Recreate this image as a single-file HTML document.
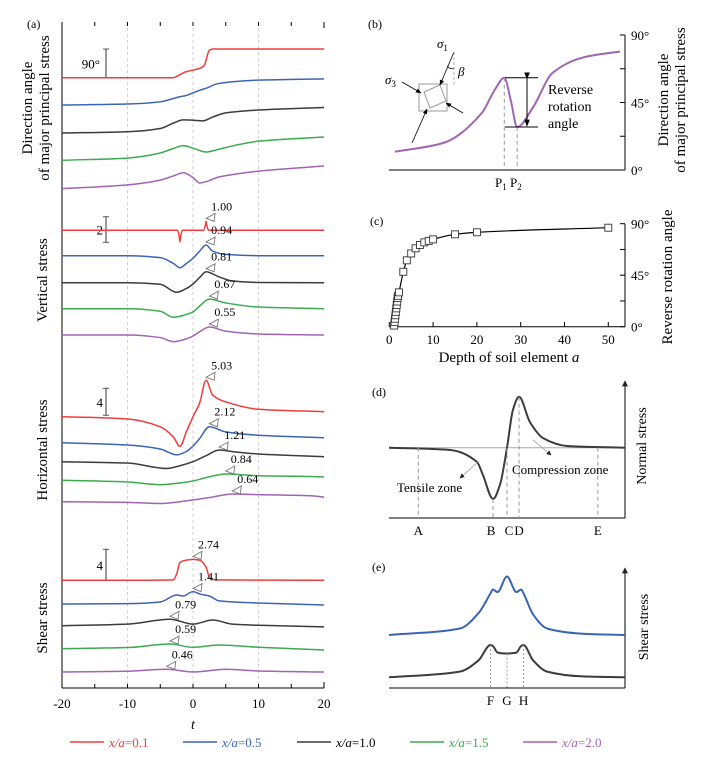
<!DOCTYPE html>
<html><head><meta charset="utf-8"><style>
html,body{margin:0;padding:0;background:#fff;}
svg{display:block;font-family:"Liberation Serif",serif;}
</style></head><body>
<svg id="fig" width="706" height="767" viewBox="0 0 706 767" xmlns="http://www.w3.org/2000/svg">
<defs>
<marker id="arr" viewBox="0 0 10 10" refX="9" refY="5" markerWidth="7" markerHeight="7" orient="auto"><path d="M0,1 L10,5 L0,9 z" fill="#000"/></marker>
<marker id="arr2" viewBox="0 0 10 10" refX="9" refY="5" markerWidth="6" markerHeight="6" orient="auto"><path d="M0,0 L10,5 L0,10 z" fill="#222"/></marker>
</defs>
<g id="pa"></g>
<g id="pb"></g>
<g id="pc"></g>
<g id="pd"></g>
<g id="pe"></g>
<g id="legend"></g>
</svg>
<script>
// ---------- data ----------
const seriesNames = ["x/a=0.1","x/a=0.5","x/a=1.0","x/a=1.5","x/a=2.0"];
const seriesColors = ["#f03c3c","#3c64b4","#3c3c3c","#3caa50","#a064b4"];
const tTicks = [-20,-10,0,10,20];

const dirT = [[-20,-3,-2.5,-1.5,-1,0,1,1.7,2.5,3,20],[-20,-10,-5,-2,-1.2,0,1,2.1,3.6,6,10,20],[-20,-10,-5,-3,-1.5,0,1.5,3,5,10,20],[-20,-10,-5,-3,-1.5,0,2,4,6,10,20],[-20,-10,-5,-3,-1.5,0,1,2,4,6,10,20]];
const dirV = [[0,0,4,15,19,24,29,38,86,90,90],[0,3,10,26,29,38,46,53,66,73,78,82],[0,4,14,31,41,40,38,50,63,72,80],[0,7,23,37,46,38,26,35,45,60,73],[0,12,27,40,50,35,18,22,37,44,55,71]];

const vertT = [[-20,-2.4,-2.1,-2,-1.9,-1.6,1.6,1.9,2,2.1,2.4,20],[-20,-10,-5,-3,-2,-1,0,1,2,3,5,10,20],[-20,-10,-5,-2.5,-1,0,1,2,4,6,10,20],[-20,-10,-5,-3,-1,0,1,2.5,5,10,20],[-20,-10,-5,-3,-1,0,1,2.5,5,10,20]];
const vertV = [[0,0,-0.5,-0.9,-0.5,0,0,0.4,0.7,0.4,0,0],[0,0,-0.15,-0.6,-0.94,-0.6,-0.2,0.35,0.84,0.35,0.1,0,0],[0,0,-0.12,-0.75,-0.45,-0.1,0.4,0.86,0.45,0.13,0.02,0],[0,0,-0.2,-0.67,-0.45,-0.25,0.2,0.75,0.45,0.13,0],[0,0,-0.2,-0.52,-0.3,-0.08,0.25,0.62,0.3,0.08,0]];
const vertLabels = ["1.00","0.94","0.81","0.67","0.55"];

const horT = [[-20,-10,-5,-3,-2,-1,0,1,2,3,5,10,20],[-20,-10,-5,-2.5,-1,0,1,2.5,5,10,20],[-20,-10,-4,-2,0,2,4,6,10,20],[-20,-10,-5,-2,0,2,5,10,18.5,20],[-20,-10,-5,-2,0,3,6,10,18.5,20]];
const horV = [[0,-0.34,-1.5,-3,-4.4,-2.2,0,2,5.4,3.2,2.2,1.1,0.74],[0,-0.34,-0.93,-1.8,-1.3,-0.5,0.6,2.37,1.6,1.1,0.74],[0,-0.2,-1,-0.6,0,0.9,1.73,1.5,1.14,0.74],[0,-0.25,-0.65,-0.4,-0.1,0.4,0.93,0.68,0.55,0.5],[0,-0.1,-0.27,0,0.25,0.7,1.14,1.04,0.85,0.65]];
const horLabels = ["5.03","2.12","1.21","0.84","0.64"];

const shT = [[-20,-10,-3,-2.5,-2,-1,0,1,2,2.5,3,4,20],[-20,-10,-5,-2.5,-1.5,0,1,2.5,4,10,20],[-20,-10,-3.5,0,3,6,10,20],[-20,-10,-3.5,0,4,10,20],[-20,-10,-4,0,5,10,20]];
const shV = [[0,0,0.05,0.8,2.3,2.6,2.7,2.6,1.7,0.4,0.1,0.05,0],[0,0.05,0.26,1.16,1.03,1.6,1.3,1.03,0.4,0.13,-0.13],[0,0.2,0.83,0.2,0.74,0.2,0.05,-0.15],[0,0.15,0.6,0.18,0.48,0.18,-0.16],[0,0.1,0.35,0,0.35,0.13,0]];
const shLabels = ["2.74","1.41","0.79","0.59","0.46"];

const bX = [0,15,27,31,34,36,38,43,49,59,70];
const bV = [12.2,18,38,53.3,61.5,46.7,28.7,42,64.7,75.3,79];
const bTicks = ["0°","45°","90°"];

const cDepth = [1.1,1.2,1.3,1.4,1.5,1.6,1.7,1.8,1.9,2.0,2.2,3.2,4,5,6,7,8,9,10,15,20,50];
const cAngle = [1,4,7,10,13,16,19,22,25,27,30,48,58,64,68.5,71.4,73.7,75,76.3,80.7,82.5,86.5];
const cXTicks = [0,10,20,30,40,50];

const dX = [0,25.8,37.3,39.8,44.1,47,50,52.5,55.1,59.7,65.3,75.4,100];
const dV = [0,-0.13,-0.82,-1.56,-2.93,-2.13,0,2.15,2.91,1.47,0.55,0.1,0];
const eX = [0,30,38,43,44,46,50,54,56,57,61,67,82,100];
const eBlue = [0,0.5,1.7,3.2,3.5,3.3,4.5,3.3,3.5,3.2,1.6,0.5,0.1,0];
const eBlack = [0,0.6,1.8,3.4,3.3,2.6,2.5,2.6,3.3,3.4,1.8,0.6,0.1,0];

// ---------- helpers ----------
const NS="http://www.w3.org/2000/svg";
function el(parent,tag,attrs,text){const e=document.createElementNS(NS,tag);for(const k in attrs)e.setAttribute(k,attrs[k]);if(text!==undefined)e.textContent=text;parent.appendChild(e);return e;}
function smooth(pts){const n=pts.length;if(n<2)return "";const dx=[],s=[];for(let i=0;i<n-1;i++){dx[i]=pts[i+1][0]-pts[i][0];s[i]=(pts[i+1][1]-pts[i][1])/dx[i];}
 const m=[s[0]];for(let i=1;i<n-1;i++){if(s[i-1]*s[i]<=0)m[i]=0;else{const w1=2*dx[i]+dx[i-1],w2=dx[i]+2*dx[i-1];m[i]=(w1+w2)/(w1/s[i-1]+w2/s[i]);}}m[n-1]=s[n-2];
 let d="M"+pts[0][0].toFixed(2)+","+pts[0][1].toFixed(2);
 for(let i=0;i<n-1;i++){const h=dx[i]/3;d+="C"+(pts[i][0]+h).toFixed(2)+","+(pts[i][1]+m[i]*h).toFixed(2)+" "+(pts[i+1][0]-h).toFixed(2)+","+(pts[i+1][1]-m[i+1]*h).toFixed(2)+" "+pts[i+1][0].toFixed(2)+","+pts[i+1][1].toFixed(2);}
 return d;}

// ---------- panel a ----------
const pa=document.getElementById('pa');
const xT=t=>62+(t+20)*(262/40);
tTicks.forEach((t,i)=>{if(t>-20&&t<20){const g=el(pa,'line',{x1:xT(t),x2:xT(t),y1:22,y2:688,stroke:'#bbb','stroke-width':0.7,'stroke-dasharray':'3,3'});}});
let ax=el(pa,'line',{x1:62,y1:22,x2:62,y2:688,stroke:'#000','stroke-width':1});
ax=el(pa,'line',{x1:62,y1:688,x2:324,y2:688,stroke:'#000','stroke-width':1});
el(pa,'line',{x1:324,y1:22,x2:324,y2:28,stroke:'#000'});el(pa,'line',{x1:324,y1:682,x2:324,y2:688,stroke:'#000'});
for(let t=-15;t<=15;t+=5){el(pa,'line',{x1:xT(t),x2:xT(t),y1:22,y2:26,stroke:'#000'});el(pa,'line',{x1:xT(t),x2:xT(t),y1:684,y2:688,stroke:'#000'});}
tTicks.forEach(t=>{const tx=el(pa,'text',{x:xT(t),y:708,'font-size':13,'text-anchor':'middle'},String(t));});
let tl=el(pa,'text',{x:193,y:729,'font-size':14,'font-style':'italic','text-anchor':'middle'},'t');
let pl=el(pa,'text',{x:27,y:28,'font-size':12},'(a)');

function ylab(x,y,lines,name,size){const t=el(pa,'text',{transform:`translate(${x},${y}) rotate(-90)`,'font-size':size||15,'text-anchor':'middle'});lines.forEach((s,i)=>{el(t,'tspan',{x:0,dy:i?17:0},s);});return t;}
ylab(32,108,["Direction angle","of major principal stress"],'y-title-direction');
ylab(47,280,["Vertical stress"],'y-title-vertical');
ylab(47,450,["Horizontal stress"],'y-title-horizontal');
ylab(47,618,["Shear stress"],'y-title-shear');

function scaleBar(y1,y2,label,lx){const g=el(pa,'g',{});
el(g,'line',{x1:106,x2:106,y1:y1,y2:y2,stroke:'#555','stroke-width':1.2});el(g,'line',{x1:103,x2:109,y1:y1,y2:y1,stroke:'#555'});el(g,'line',{x1:103,x2:109,y1:y2,y2:y2,stroke:'#555'});
el(g,'text',{x:lx,y:(y1+y2)/2+5,'font-size':13,'text-anchor':'end'},label);}
scaleBar(49,77.7,'90°',100);scaleBar(216.7,242.3,'2',103);scaleBar(388.3,415.3,'4',103);scaleBar(549.3,580.3,'4',103);

function section(Ts,Vs,bases,ppu,labels,name){
 Ts.forEach((T,i)=>{const pts=T.map((t,j)=>[xT(t),bases[i]-Vs[i][j]*ppu]);
  const p=el(pa,'path',{d:smooth(pts),fill:'none',stroke:seriesColors[i],'stroke-width':1.5});
  
  
  if(labels){let k=0;Vs[i].forEach((v,j)=>{if(v>Vs[i][k])k=j;});const px=xT(T[k]),py=bases[i]-Vs[i][k]*ppu-3;
   const m=el(pa,'path',{d:`M${px},${py} L${px+9},${py-5} L${px+8},${py+3} Z`,fill:'#fff',stroke:'#777','stroke-width':0.9});
   
   
   const lt=el(pa,'text',{x:px+5,y:py-8,'font-size':12},labels[i]);
   
   }
 });}
section(dirT,dirV,[77.7,105,133,160.3,188.7],28.7/90,null,'direction-curve');
section(vertT,vertV,[230.3,255.7,282.7,308.7,335],12.8,vertLabels,'vertical-curve');
section(horT,horV,[416.7,442.7,461.7,480.3,501.7],6.75,horLabels,'horizontal-curve');
section(shT,shV,[580.3,604,625.7,648.7,672],7.75,shLabels,'shear-curve');

// ---------- legend ----------
const lg=document.getElementById('legend');
const legX=[70,183,297,410,523];
seriesNames.forEach((n,i)=>{const g=el(lg,'g',{});
 el(g,'line',{x1:legX[i],x2:legX[i]+34,y1:742,y2:742,stroke:seriesColors[i],'stroke-width':1.6});
 const t=el(g,'text',{x:legX[i]+39,y:747,'font-size':13,fill:i==2?'#000':seriesColors[i]});
 el(t,'tspan',{'font-style':'italic'},'x/a');el(t,'tspan',{},'=' + n.split('=')[1]);});

// ---------- panel b ----------
const pb=document.getElementById('pb');
const bx=v=>395+v*(225/70), by=a=>170-a*(135/90);
el(pb,'line',{x1:389,y1:170,x2:625,y2:170,stroke:'#000'});
el(pb,'line',{x1:625,y1:35,x2:625,y2:170,stroke:'#000'});
[0,22.5,45,67.5,90].forEach(a=>el(pb,'line',{x1:620,x2:625,y1:by(a),y2:by(a),stroke:'#000'}));
bTicks.forEach(s=>{const a=parseFloat(s);const t=el(pb,'text',{x:631,y:by(a)+5,'font-size':13},s);});
let bp=el(pb,'path',{d:smooth(bX.map((x,i)=>[bx(x),by(bV[i])])),fill:'none',stroke:'#a064b4','stroke-width':2});
el(pb,'line',{x1:bx(bX[4]),x2:bx(bX[4]),y1:by(bV[4]),y2:170,stroke:'#999','stroke-dasharray':'4,3'});
el(pb,'line',{x1:bx(bX[6]),x2:bx(bX[6]),y1:by(bV[6]),y2:170,stroke:'#999','stroke-dasharray':'4,3'});
let pt=el(pb,'text',{x:495,y:187,'font-size':13},'');el(pt,'tspan',{},'P');el(pt,'tspan',{'font-size':9,dy:3},'1');el(pt,'tspan',{dy:-3},' P');el(pt,'tspan',{'font-size':9,dy:3},'2');
el(pb,'line',{x1:505,x2:538,y1:by(bV[4]),y2:by(bV[4]),stroke:'#000'});el(pb,'line',{x1:505,x2:538,y1:by(bV[6]),y2:by(bV[6]),stroke:'#000'});
el(pb,'line',{x1:527,x2:527,y1:by(bV[4])+1,y2:by(bV[6])-1,stroke:'#000','marker-start':'url(#arr)','marker-end':'url(#arr)'});
let rt=el(pb,'text',{x:548,y:94,'font-size':14});['Reverse','rotation','angle'].forEach((s,i)=>el(rt,'tspan',{x:548,dy:i?17:0},s));
let byl=el(pb,'text',{transform:'translate(668,100) rotate(-90)','font-size':15,'text-anchor':'middle'});
el(byl,'tspan',{x:0,dy:0},'Direction angle');el(byl,'tspan',{x:0,dy:17},'of major principal stress');
el(pb,'text',{x:368,y:28,'font-size':12},'(b)');
const dg=el(pb,'g',{});
el(dg,'rect',{x:419,y:84,width:28,height:27,fill:'none',stroke:'#999','stroke-width':1});
el(dg,'polygon',{points:'424,92 440,85 446,101 430,108',fill:'none',stroke:'#999'});
el(dg,'line',{x1:454,y1:52,x2:440,y2:85,stroke:'#000','stroke-width':0.8,'marker-end':'url(#arr)'});
el(dg,'line',{x1:412,y1:143,x2:427,y2:109,stroke:'#000','stroke-width':0.8,'marker-end':'url(#arr)'});
el(dg,'line',{x1:402,y1:82,x2:421,y2:93,stroke:'#000','stroke-width':0.8,'marker-end':'url(#arr)'});
el(dg,'line',{x1:463,y1:113,x2:446,y2:103,stroke:'#000','stroke-width':0.8,'marker-end':'url(#arr)'});
el(dg,'line',{x1:454,y1:52,x2:454,y2:87,stroke:'#999','stroke-dasharray':'3,2','stroke-width':0.8});
el(dg,'path',{d:'M447,66 Q451,70 454,68',fill:'none',stroke:'#000','stroke-width':0.7});
let s1=el(dg,'text',{x:437,y:48,'font-size':13,'font-style':'italic'},'σ');el(s1,'tspan',{'font-size':9,dy:3,'font-style':'normal'},'1');
let s3=el(dg,'text',{x:385,y:84,'font-size':13,'font-style':'italic'},'σ');el(s3,'tspan',{'font-size':9,dy:3,'font-style':'normal'},'3');
el(dg,'text',{x:458,y:76,'font-size':13,'font-style':'italic'},'β');

// ---------- panel c ----------
const pc=document.getElementById('pc');
const cx=d=>389.3+d*(219/50), cy=a=>326.7-a*(103/90);
el(pc,'line',{x1:389,y1:326.7,x2:625,y2:326.7,stroke:'#000'});
el(pc,'line',{x1:625,y1:223.7,x2:625,y2:326.7,stroke:'#000'});
[0,22.5,45,67.5,90].forEach(a=>el(pc,'line',{x1:620,x2:625,y1:cy(a),y2:cy(a),stroke:'#000'}));
[0,45,90].forEach(a=>{const t=el(pc,'text',{x:631,y:cy(a)+5,'font-size':13},a+'°');});
cXTicks.forEach(d=>{el(pc,'line',{x1:cx(d),x2:cx(d),y1:322,y2:326.7,stroke:'#000'});const t=el(pc,'text',{x:cx(d),y:344,'font-size':13,'text-anchor':'middle'},String(d));});
let cl=el(pc,'path',{d:smooth(cDepth.map((d,i)=>[cx(d),cy(cAngle[i])])),fill:'none',stroke:'#000','stroke-width':1.2});
cDepth.forEach((d,i)=>{const r=el(pc,'rect',{x:cx(d)-3.5,y:cy(cAngle[i])-3.5,width:7,height:7,fill:'#fff',stroke:'#333','stroke-width':0.9});});
let cxl=el(pc,'text',{x:509,y:362,'font-size':15,'text-anchor':'middle'},'Depth of soil element ');el(cxl,'tspan',{'font-style':'italic'},'a');
let cyl=el(pc,'text',{transform:'translate(672,277) rotate(-90)','font-size':15,'text-anchor':'middle'},'Reverse rotation angle');
el(pc,'text',{x:370,y:225,'font-size':12},'(c)');

// ---------- panel d ----------
const pd=document.getElementById('pd');
const dx=v=>389+v*(236/100), dy=v=>447.7-v*(17.5);
el(pd,'line',{x1:389,y1:518,x2:625,y2:518,stroke:'#000'});
el(pd,'line',{x1:625,y1:518,x2:625,y2:381,stroke:'#000','marker-end':'url(#arr2)'});
el(pd,'line',{x1:389,y1:447.7,x2:625,y2:447.7,stroke:'#aaa'});
let dc=el(pd,'path',{d:smooth(dX.map((x,i)=>[dx(x),dy(dV[i])])),fill:'none',stroke:'#3c3c3c','stroke-width':2});
const dMarks=[[dx(12.4),447.7,'A'],[dx(dX[4]),dy(dV[4]),'B'],[dx(dX[6]),447.7,'C'],[dx(dX[8]),dy(dV[8]),'D'],[dx(88.5),447.7,'E']];
dMarks.forEach(a=>{el(pd,'line',{x1:a[0],x2:a[0],y1:a[1],y2:518,stroke:'#999','stroke-dasharray':'4,3'});const t=el(pd,'text',{x:a[0]+(a[2]=='B'?-2:a[2]=='C'?2:0),y:535,'font-size':13,'text-anchor':'middle'},a[2]);});
el(pd,'line',{x1:478,y1:462,x2:460,y2:478,stroke:'#999','stroke-width':0.8,'marker-end':'url(#arr2)'});
el(pd,'line',{x1:533,y1:440,x2:551,y2:455,stroke:'#999','stroke-width':0.8,'marker-end':'url(#arr2)'});
el(pd,'text',{x:397,y:492,'font-size':13},'Tensile zone');
el(pd,'text',{x:512,y:474,'font-size':13},'Compression zone');
let dyl=el(pd,'text',{transform:'translate(646,446) rotate(-90)','font-size':14,'text-anchor':'middle'},'Normal stress');
el(pd,'text',{x:372,y:396,'font-size':12},'(d)');

// ---------- panel e ----------
const pe=document.getElementById('pe');
const ex=v=>389+v*(236/100), eyB=v=>635-v*13, eyK=v=>677.3-v*9.5;
el(pe,'line',{x1:389,y1:688,x2:625,y2:688,stroke:'#000'});
el(pe,'line',{x1:625,y1:688,x2:625,y2:568,stroke:'#000','marker-end':'url(#arr2)'});
let eb=el(pe,'path',{d:smooth(eX.map((x,i)=>[ex(x),eyB(eBlue[i])])),fill:'none',stroke:'#3c64b4','stroke-width':2});
let ek=el(pe,'path',{d:smooth(eX.map((x,i)=>[ex(x),eyK(eBlack[i])])),fill:'none',stroke:'#3c3c3c','stroke-width':2});
[[3,'F'],[6,'G'],[9,'H']].forEach(a=>{const x=ex(eX[a[0]]);el(pe,'line',{x1:x,x2:x,y1:eyK(eBlack[a[0]]),y2:688,stroke:'#999','stroke-dasharray':'2,2'});el(pe,'text',{x:x,y:705,'font-size':13,'text-anchor':'middle'},a[1]);});
let eyl=el(pe,'text',{transform:'translate(648,627) rotate(-90)','font-size':14,'text-anchor':'middle'},'Shear stress');
el(pe,'text',{x:372,y:571,'font-size':12},'(e)');
</script>
</body></html>
